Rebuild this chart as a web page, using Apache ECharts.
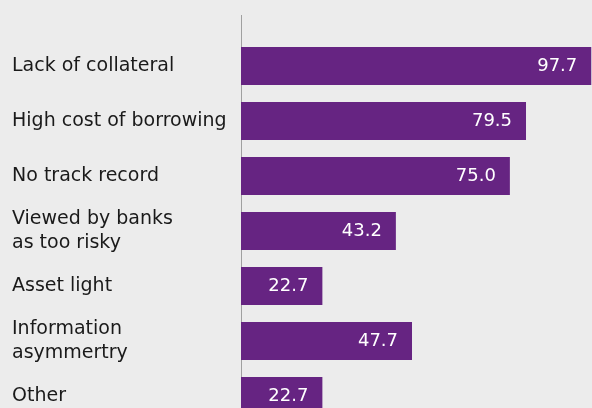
<!DOCTYPE html>
<html>
<head>
<meta charset="utf-8">
<script src="https://cdn.jsdelivr.net/npm/echarts@6/dist/echarts.min.js"></script>
<style>
  html, body { margin: 0; padding: 0; background: #ececec; }
  #chart { width: 592px; height: 408px; }
</style>
</head>
<body>
<div id="chart"></div>
<script>
// Reasons given for difficulty accessing bank finance (% of respondents)
const categories = [
  'Lack of collateral',
  'High cost of borrowing',
  'No track record',
  'Viewed by banks\nas too risky',
  'Asset light',
  'Information\nasymmertry',
  'Other'
];
const shares = [97.7, 79.5, 75.0, 43.2, 22.7, 47.7, 22.7];

const FONT = '"DejaVu Sans", Verdana, sans-serif';
const chart = echarts.init(document.getElementById('chart'), null, { renderer: 'canvas' });

chart.setOption({
  backgroundColor: '#ececec',
  animation: false,
  // plot area runs a little past the right and bottom edges of the canvas
  grid: {
    left: 241, top: 38.5, width: 358.5, height: 385,
    containLabel: false,
    outerBoundsMode: 'none'
  },
  xAxis: {
    type: 'value',
    min: 0,
    max: 100,
    show: false
  },
  yAxis: {
    type: 'category',
    inverse: true,
    data: categories,
    axisLine: { show: true, lineStyle: { color: '#a0a0a0', width: 1 } },
    axisTick: { show: false },
    axisLabel: {
      align: 'left',
      margin: 229,
      color: '#1a1a1a',
      fontFamily: FONT,
      fontSize: 19,
      lineHeight: 24
    }
  },
  // short stub of the category axis line above the first bar
  graphic: [{
    type: 'line',
    shape: { x1: 241.5, y1: 15, x2: 241.5, y2: 39 },
    style: { stroke: '#a0a0a0', lineWidth: 1 },
    silent: true
  }],
  series: [{
    type: 'bar',
    data: shares,
    barWidth: 38,
    itemStyle: { color: '#662482' },
    label: {
      show: true,
      position: 'insideRight',
      distance: 14,
      color: '#ffffff',
      fontFamily: FONT,
      fontSize: 18,
      formatter: p => p.value.toFixed(1)
    }
  }]
});
</script>
</body>
</html>
